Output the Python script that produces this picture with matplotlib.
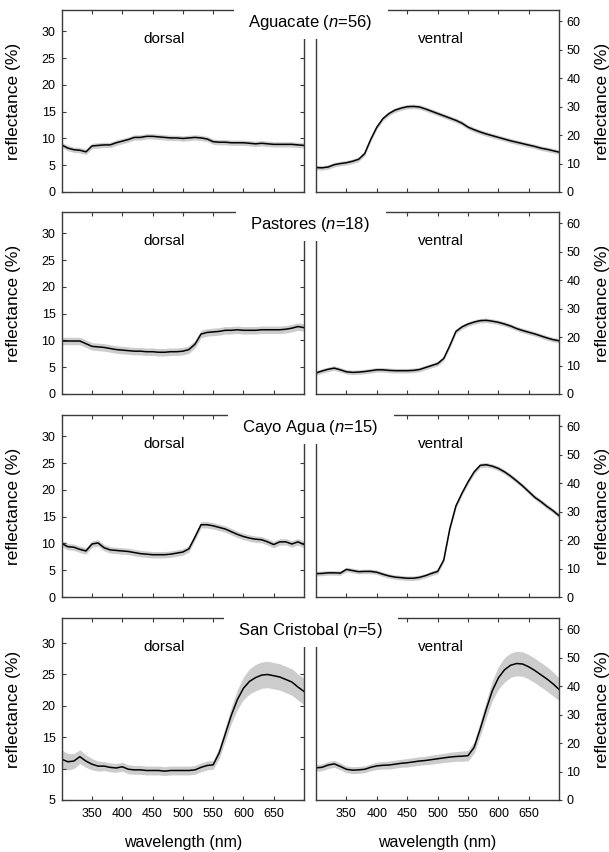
import matplotlib
matplotlib.use("Agg")
import matplotlib.pyplot as plt
import matplotlib.patches as patches
import numpy as np

plt.rcParams['font.family'] = ['Liberation Sans', 'DejaVu Sans']
plt.rcParams['mathtext.fontset'] = 'custom'
plt.rcParams['mathtext.rm'] = 'Liberation Sans'
plt.rcParams['mathtext.it'] = 'Liberation Sans:italic'

# wavelength grid (nm), read every 10 nm
wl = np.arange(300, 701, 10)

# mean reflectance (%)
agu_d = [8.8, 8.2, 7.9, 7.8, 7.5, 8.6, 8.7, 8.8, 8.8, 9.2, 9.5, 9.8, 10.2, 10.2, 10.4, 10.4,
         10.3, 10.2, 10.1, 10.1, 10.0, 10.1, 10.2, 10.1, 9.9, 9.4, 9.3, 9.3, 9.2, 9.2, 9.2,
         9.1, 9.0, 9.1, 9.0, 8.9, 8.9, 8.9, 8.9, 8.8, 8.7]
agu_v = [8.6, 8.5, 8.8, 9.6, 10.0, 10.3, 10.8, 11.5, 13.5, 18.5, 22.8, 25.8, 27.6, 28.8, 29.5,
         30.0, 30.1, 29.9, 29.2, 28.4, 27.6, 26.8, 26.0, 25.2, 24.2, 22.8, 21.9, 21.1, 20.4,
         19.8, 19.2, 18.6, 18.0, 17.5, 17.0, 16.5, 16.0, 15.4, 15.0, 14.5, 14.0]
pas_d = [9.9, 9.9, 9.9, 9.9, 9.4, 8.9, 8.8, 8.7, 8.5, 8.3, 8.2, 8.1, 8.0, 8.0, 7.9, 7.9, 7.8,
         7.8, 7.9, 7.9, 8.0, 8.3, 9.3, 11.2, 11.5, 11.6, 11.7, 11.9, 11.9, 12.0, 11.9, 11.9,
         11.9, 12.0, 12.0, 12.0, 12.0, 12.1, 12.3, 12.6, 12.4]
pas_v = [7.4, 8.1, 8.7, 9.1, 8.5, 7.8, 7.6, 7.7, 7.9, 8.2, 8.5, 8.5, 8.3, 8.2, 8.2, 8.2, 8.3,
         8.6, 9.3, 10.0, 10.7, 12.5, 17.0, 22.0, 23.6, 24.6, 25.3, 25.8, 25.9, 25.6, 25.2,
         24.6, 23.9, 23.0, 22.3, 21.7, 21.1, 20.4, 19.7, 19.1, 18.7]
cay_d = [10.0, 9.4, 9.3, 8.9, 8.6, 9.9, 10.1, 9.2, 8.8, 8.7, 8.6, 8.5, 8.3, 8.1, 8.0, 7.9,
         7.9, 7.9, 8.0, 8.2, 8.4, 9.0, 11.2, 13.5, 13.5, 13.3, 13.0, 12.7, 12.2, 11.7, 11.3,
         11.0, 10.8, 10.7, 10.3, 9.8, 10.3, 10.3, 9.9, 10.3, 9.8]
cay_v = [8.2, 8.3, 8.5, 8.5, 8.4, 9.7, 9.3, 8.9, 9.0, 9.0, 8.7, 8.0, 7.4, 7.0, 6.8, 6.6, 6.6,
         6.9, 7.5, 8.3, 9.0, 13.0, 24.0, 32.0, 36.5, 40.5, 44.0, 46.3, 46.5, 46.0, 45.2,
         44.0, 42.5, 40.8, 39.0, 37.0, 35.0, 33.5, 31.8, 30.3, 28.5]
san_d = [11.5, 11.1, 11.2, 11.9, 11.2, 10.7, 10.4, 10.4, 10.2, 10.1, 10.3, 9.9, 9.8, 9.8,
         9.7, 9.7, 9.7, 9.6, 9.7, 9.7, 9.7, 9.7, 9.8, 10.2, 10.5, 10.6, 12.5, 15.5, 18.5,
         21.0, 22.8, 23.9, 24.5, 24.9, 25.0, 24.8, 24.6, 24.2, 23.8, 23.0, 22.3]
san_v = [11.3, 11.5, 12.3, 12.7, 11.8, 10.8, 10.5, 10.6, 10.8, 11.5, 12.0, 12.2, 12.3, 12.6,
         12.9, 13.1, 13.4, 13.7, 13.9, 14.2, 14.5, 14.8, 15.1, 15.3, 15.4, 15.6, 18.5, 25.0,
         32.0, 38.5, 43.0, 45.8, 47.4, 48.0, 47.8, 46.8, 45.5, 44.0, 42.5, 40.8, 38.8]

# half-width of the grey band
agu_d_se = 0.5
agu_v_se = 0.8
pas_d_se = 0.7
pas_v_se = 0.8
cay_d_se = 0.6
cay_v_se = 0.8
san_d_se = [1.5, 1.3, 1.2, 1.1, 1.0, 0.9, 0.8, 0.7, 0.7, 0.7, 0.7, 0.7, 0.7, 0.7, 0.7, 0.7,
            0.7, 0.7, 0.7, 0.7, 0.7, 0.7, 0.7, 0.7, 0.7, 0.7, 0.9, 1.1, 1.3, 1.6, 1.8, 2.0,
            2.1, 2.1, 2.1, 2.1, 2.1, 2.1, 2.1, 2.1, 2.1]
san_v_se = [1.2, 1.2, 1.2, 1.2, 1.2, 1.2, 1.2, 1.2, 1.2, 1.2, 1.3, 1.3, 1.4, 1.4, 1.4, 1.5,
            1.5, 1.5, 1.5, 1.6, 1.6, 1.6, 1.7, 1.7, 1.8, 1.8, 2.0, 2.5, 3.0, 3.5, 4.0, 4.3,
            4.3, 4.3, 4.3, 4.3, 4.3, 4.3, 4.3, 4.2, 4.0]

titles = ['Aguacate ($n$=56)', 'Pastores ($n$=18)', 'Cayo Agua ($n$=15)', 'San Cristobal ($n$=5)']
dorsal = [(agu_d, agu_d_se), (pas_d, pas_d_se), (cay_d, cay_d_se), (san_d, san_d_se)]
ventral = [(agu_v, agu_v_se), (pas_v, pas_v_se), (cay_v, cay_v_se), (san_v, san_v_se)]
left_ylim = [(0, 34), (0, 34), (0, 34), (5, 34)]
xticks = [350, 400, 450, 500, 550, 600, 650]

W, H = 609, 852
fig = plt.figure(figsize=(W / 100, H / 100), dpi=100)

spine_c = '#3a3a3a'
band_c = '#cccccc'
row_tops = [10, 212, 415, 618]
row_h = 182
lx0, lw_ = 61.7, 242.3
rx0, rw_ = 316.0, 243.3


def style(ax):
    for s in ax.spines.values():
        s.set_color(spine_c)
        s.set_linewidth(1.0)
    ax.set_xlim(300, 700)
    ax.set_xticks(xticks)
    ax.tick_params(axis='x', direction='in', length=3, width=0.8, color=spine_c,
                   top=True, labelsize=9, pad=6)


axes_pairs = []
for i in range(4):
    top = row_tops[i]
    y0 = 1 - (top + row_h) / H
    hh = row_h / H
    axl = fig.add_axes([lx0 / W, y0, lw_ / W, hh])
    axr = fig.add_axes([rx0 / W, y0, rw_ / W, hh])
    for ax in (axl, axr):
        style(ax)

    m, se = dorsal[i]
    m = np.array(m)
    se = np.array(se) * np.ones_like(m)
    axl.fill_between(wl, m - se, m + se, color=band_c, lw=0)
    axl.plot(wl, m, color='black', lw=1.1)
    axl.set_ylim(*left_ylim[i])
    axl.set_yticks(np.arange(left_ylim[i][0], 31, 5))
    axl.tick_params(axis='y', direction='in', length=3, width=0.8, color=spine_c,
                    right=True, labelsize=9, pad=4.5)
    axl.set_ylabel('reflectance (%)', fontsize=12.5)
    axl.yaxis.set_label_coords((21 - lx0) / lw_, 0.5)
    axl.text(0.421, 0.84, 'dorsal', transform=axl.transAxes, ha='center', va='center',
             fontsize=11)

    m, se = ventral[i]
    m = np.array(m)
    se = np.array(se) * np.ones_like(m)
    axr.fill_between(wl, m - se, m + se, color=band_c, lw=0)
    axr.plot(wl, m, color='black', lw=1.1)
    axr.set_ylim(0, 64)
    axr.set_yticks(np.arange(0, 61, 10))
    axr.yaxis.tick_right()
    axr.tick_params(axis='y', direction='out', length=2.5, width=0.8, color=spine_c,
                    left=False, right=True, labelsize=9, pad=2.5)
    axr.yaxis.set_label_position('right')
    axr.set_ylabel('reflectance (%)', fontsize=12.5, rotation=90)
    axr.yaxis.set_label_coords((602 - rx0) / rw_, 0.5)
    axr.yaxis.label.set_va('center')
    axr.text(0.514, 0.84, 'ventral', transform=axr.transAxes, ha='center', va='center',
             fontsize=11)

    if i < 3:
        axl.tick_params(axis='x', labelbottom=False)
        axr.tick_params(axis='x', labelbottom=False)
    else:
        for ax in (axl, axr):
            ax.set_xlabel('wavelength (nm)', fontsize=11.5)
            ax.xaxis.set_label_coords(0.5, (800 - 842) / row_h)
            ax.xaxis.label.set_va('center')

    # panel title with white box covering the top frame between panels
    t = fig.text(310 / W, 1 - (top + 17) / H, titles[i], ha='center', va='baseline',
                 fontsize=12, zorder=6)
    axes_pairs.append(t)

fig.canvas.draw()
renderer = fig.canvas.get_renderer()
for i, t in enumerate(axes_pairs):
    bb = t.get_window_extent(renderer)
    top = row_tops[i]
    x0 = bb.x0 - 14
    x1 = bb.x1 + 16
    ytop = H - (top - 10)
    ybot = H - (top + 29)
    rect = patches.Rectangle((x0 / W, ybot / H), (x1 - x0) / W, (ytop - ybot) / H,
                             transform=fig.transFigure, facecolor='white',
                             edgecolor='none', zorder=5)
    fig.add_artist(rect)

fig.savefig('out.png', dpi=100)
